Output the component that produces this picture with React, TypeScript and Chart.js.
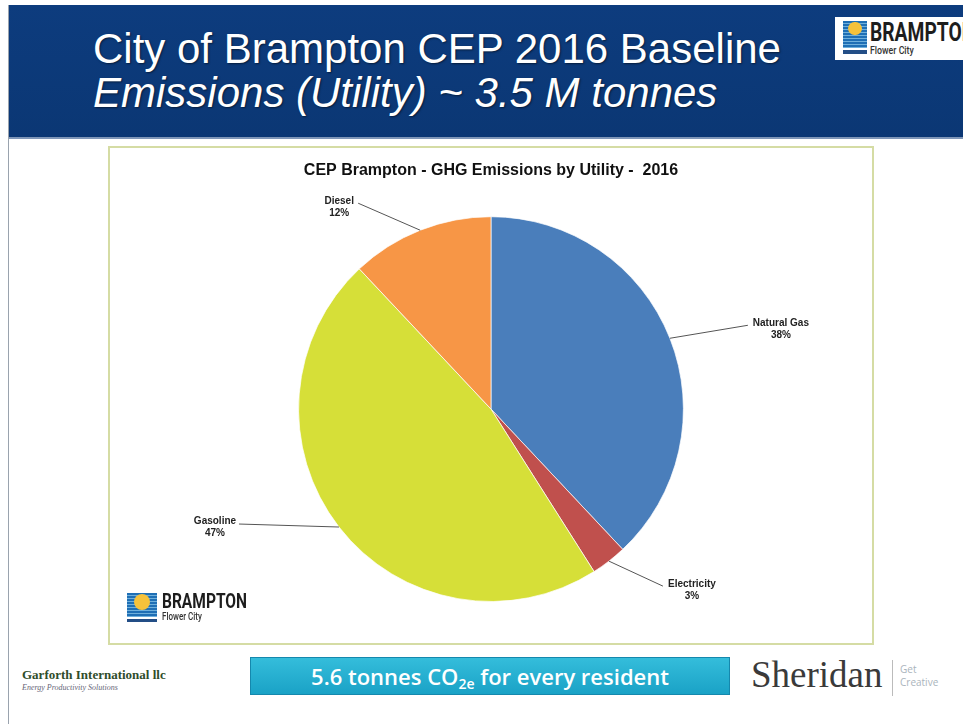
import React, { useEffect, useRef } from "react";
import { Chart, registerables } from "chart.js";

Chart.register(...registerables);

// ---- data ----
const categories = ["Natural Gas", "Electricity", "Gasoline", "Diesel"];
const shares = [38, 3, 47, 12];
const shareLabels = ["38%", "3%", "47%", "12%"];
const chartTitle = "CEP Brampton - GHG Emissions by Utility -  2016";

// ---- styles ----
const sliceColors = ["#4a7ebb", "#c0504d", "#d6df38", "#f79646"];
// leader line end offset from slice edge midpoint, and text offset from line end
const leaderOffsets = [
  [78, -13],
  [54, 25],
  [-100, -3],
  [-62, -27],
];
const textOffsets = [
  [33, -2],
  [29, -2],
  [-24, -3],
  [-19, -2],
];

const labelPlugin = {
  id: "leaderLabels",
  afterDatasetsDraw(chart: any) {
    const ctx = chart.ctx;
    const meta = chart.getDatasetMeta(0);
    ctx.save();
    meta.data.forEach((arc: any, i: number) => {
      const p = arc.getProps(["x", "y", "startAngle", "endAngle", "outerRadius"], true);
      const mid = (p.startAngle + p.endAngle) / 2;
      const ex = p.x + Math.cos(mid) * p.outerRadius;
      const ey = p.y + Math.sin(mid) * p.outerRadius;
      const lx = ex + leaderOffsets[i][0];
      const ly = ey + leaderOffsets[i][1];
      ctx.strokeStyle = "#555";
      ctx.lineWidth = 1;
      ctx.beginPath();
      ctx.moveTo(ex, ey);
      ctx.lineTo(lx, ly);
      ctx.stroke();
      const tx = lx + textOffsets[i][0];
      const ty = ly + textOffsets[i][1];
      ctx.fillStyle = "#222";
      ctx.font = "bold 10px 'Liberation Sans', Arial, sans-serif";
      ctx.textAlign = "center";
      ctx.textBaseline = "middle";
      ctx.fillText(categories[i], tx, ty);
      ctx.fillText(shareLabels[i], tx, ty + 12);
    });
    ctx.restore();
  },
};

function Icon({ w, h }: { w: number; h: number }) {
  return (
    <div style={{ position: "relative", width: w, height: h }}>
      <div
        style={{
          position: "absolute",
          left: 0,
          top: 0,
          width: w,
          height: h * 0.8,
          background:
            "repeating-linear-gradient(180deg,#1f6fb5 0px,#1f6fb5 2px,#6fb0dc 2px,#6fb0dc 3px)",
        }}
      />
      <div
        style={{
          position: "absolute",
          left: w * 0.22,
          top: h * 0.02,
          width: w * 0.56,
          height: w * 0.56,
          borderRadius: "50%",
          background: "#f6c23a",
        }}
      />
      <div
        style={{
          position: "absolute",
          left: 0,
          top: h * 0.86,
          width: w,
          height: h * 0.1,
          background: "#234e86",
        }}
      />
    </div>
  );
}

function BramptonLogo({ left, top, iconW, iconH, bigSize, smallSize, textLeft }: any) {
  return (
    <>
      <div style={{ position: "absolute", left, top }}>
        <Icon w={iconW} h={iconH} />
      </div>
      <div
        style={{
          position: "absolute",
          left: textLeft,
          top: top - 2,
          fontFamily: "Roboto, 'Liberation Sans', sans-serif",
          fontWeight: 700,
          fontSize: bigSize,
          lineHeight: 1,
          color: "#1d1d1d",
          transform: "scaleX(0.74)",
          transformOrigin: "left top",
          whiteSpace: "nowrap",
        }}
      >
        BRAMPTON
      </div>
      <div
        style={{
          position: "absolute",
          left: textLeft,
          top: top + bigSize * 0.92,
          fontFamily: "Roboto, 'Liberation Sans', sans-serif",
          fontWeight: 500,
          fontSize: smallSize,
          lineHeight: 1,
          color: "#333",
          transform: "scaleX(0.8)",
          transformOrigin: "left top",
          whiteSpace: "nowrap",
        }}
      >
        Flower City
      </div>
    </>
  );
}

export default function App() {
  const canvasRef = useRef<HTMLCanvasElement | null>(null);

  useEffect(() => {
    const canvas = canvasRef.current;
    if (!canvas) return;
    const chart = new Chart(canvas, {
      type: "pie",
      data: {
        labels: categories,
        datasets: [
          {
            data: shares,
            backgroundColor: sliceColors,
            borderColor: "rgba(255,255,255,0.7)",
            borderWidth: 1,
          },
        ],
      },
      options: {
        animation: false,
        responsive: false,
        maintainAspectRatio: false,
        layout: { padding: { top: 0, bottom: 41, left: 0, right: 0 } },
        plugins: {
          legend: { display: false },
          tooltip: { enabled: false },
          title: {
            display: true,
            text: chartTitle,
            color: "#111",
            font: { family: "'Liberation Sans', Arial, sans-serif", size: 16, weight: "bold" },
            padding: { top: 13, bottom: 36 },
          },
        },
      },
      plugins: [labelPlugin],
    });
    return () => chart.destroy();
  }, []);

  return (
    <div
      style={{
        position: "absolute",
        left: 0,
        top: 0,
        width: 963,
        height: 724,
        background: "#fff",
        overflow: "hidden",
        fontFamily: "'Liberation Sans', Arial, sans-serif",
      }}
    >
      <div style={{ position: "absolute", left: 8, top: 5, width: 1, height: 719, background: "#9aa3ae" }} />
      <div
        style={{
          position: "absolute",
          left: 9,
          top: 5,
          width: 954,
          height: 132,
          background: "linear-gradient(180deg,#0d3c7e 0%,#0b3774 100%)",
          borderBottom: "2px solid #7f96b8",
        }}
      />
      <div
        style={{
          position: "absolute",
          left: 93,
          top: 28,
          fontSize: 42,
          lineHeight: "42px",
          color: "#fff",
          whiteSpace: "nowrap",
          textShadow: "1px 1px 2px rgba(0,0,0,0.5)",
        }}
      >
        City of Brampton CEP 2016 Baseline
      </div>
      <div
        style={{
          position: "absolute",
          left: 93,
          top: 72,
          fontSize: 42,
          lineHeight: "42px",
          fontStyle: "italic",
          color: "#fff",
          whiteSpace: "nowrap",
          textShadow: "1px 1px 2px rgba(0,0,0,0.5)",
        }}
      >
        Emissions (Utility) ~ 3.5 M tonnes
      </div>
      <div style={{ position: "absolute", left: 835, top: 17, width: 128, height: 43, background: "#fff" }} />
      <BramptonLogo left={843} top={21} iconW={24} iconH={34} bigSize={26} smallSize={11} textLeft={870} />

      <div
        style={{
          position: "absolute",
          left: 108,
          top: 146,
          width: 762,
          height: 495,
          border: "2px solid #d5dca4",
          background: "#fff",
        }}
      >
        <canvas ref={canvasRef} width={762} height={495} style={{ display: "block" }} />
      </div>
      <BramptonLogo left={127} top={593} iconW={30} iconH={30} bigSize={21} smallSize={10} textLeft={162} />

      <div
        style={{
          position: "absolute",
          left: 22,
          top: 667,
          fontFamily: "'Liberation Serif', 'DejaVu Serif', serif",
          fontWeight: 700,
          fontSize: 13,
          color: "#2f4d2a",
          whiteSpace: "nowrap",
        }}
      >
        Garforth International llc
      </div>
      <div
        style={{
          position: "absolute",
          left: 22,
          top: 683,
          fontFamily: "'Liberation Serif', serif",
          fontStyle: "italic",
          fontSize: 8,
          color: "#667",
          whiteSpace: "nowrap",
        }}
      >
        Energy Productivity Solutions
      </div>
      <div
        style={{
          position: "absolute",
          left: 250,
          top: 657,
          width: 480,
          height: 38,
          background: "linear-gradient(180deg,#34bddb 0%,#1aa2c6 100%)",
          border: "1px solid #1588ad",
          boxSizing: "border-box",
          color: "#fff",
          fontFamily: "'Open Sans', 'Noto Sans', sans-serif",
          fontWeight: 600,
          fontSize: 22,
          lineHeight: "36px",
          textAlign: "center",
          whiteSpace: "nowrap",
        }}
      >
        5.6 tonnes CO<sub style={{ fontSize: 14, verticalAlign: "-4px" }}>2e</sub> for every resident
      </div>
      <div
        style={{
          position: "absolute",
          left: 751,
          top: 655,
          fontFamily: "'Liberation Serif', 'DejaVu Serif', serif",
          fontSize: 37,
          lineHeight: "40px",
          color: "#3a3a3a",
          whiteSpace: "nowrap",
        }}
      >
        Sheridan
      </div>
      <div style={{ position: "absolute", left: 892, top: 660, width: 1, height: 36, background: "#bbb" }} />
      <div
        style={{
          position: "absolute",
          left: 900,
          top: 663,
          fontSize: 10,
          lineHeight: "13px",
          color: "#aab4bc",
          fontFamily: "'Open Sans', sans-serif",
        }}
      >
        Get
        <br />
        Creative
      </div>
    </div>
  );
}
